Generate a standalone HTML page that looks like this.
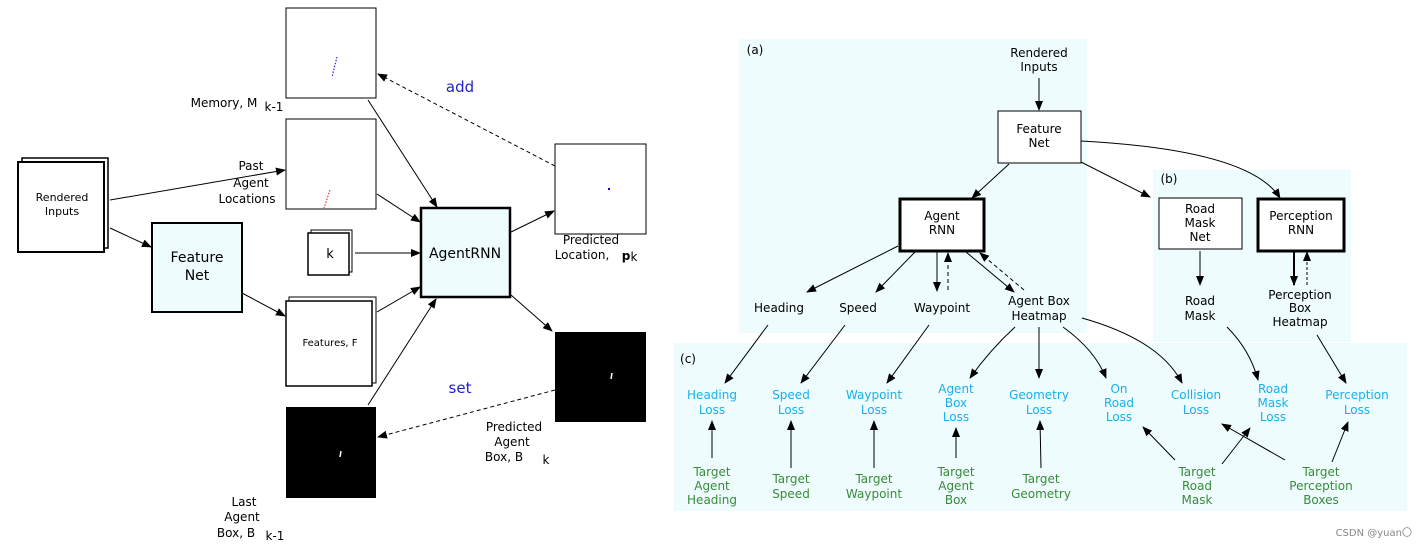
<!DOCTYPE html>
<html><head><meta charset="utf-8"><style>
html,body{margin:0;padding:0;background:#fff;overflow:hidden;}
svg{display:block;font-family:"DejaVu Sans","Liberation Sans",sans-serif;}
</style></head><body>
<svg width="1426" height="548" viewBox="0 0 1426 548" xmlns="http://www.w3.org/2000/svg">
<defs>
<marker id="a" markerWidth="10" markerHeight="8" refX="9" refY="4" orient="auto" markerUnits="userSpaceOnUse"><path d="M0,0 L10,4 L0,8 z" fill="#000"/></marker>
</defs>
<!-- LEFT DIAGRAM -->
<g stroke="#000" fill="none">
<rect x="22" y="158" width="86" height="90" fill="#fff" stroke-width="1.5"/>
<rect x="18" y="162" width="86" height="90" fill="#fff" stroke-width="2"/>
<rect x="152" y="223" width="90" height="89" fill="#eefcfd" stroke-width="2"/>
<rect x="286" y="8" width="90" height="90" fill="#fff" stroke-width="1"/>
<rect x="286" y="119" width="90" height="90" fill="#fff" stroke-width="1"/>
<rect x="311" y="230" width="41" height="42" fill="#fff" stroke-width="1"/>
<rect x="308" y="233" width="41" height="42" fill="#fff" stroke-width="1.5"/>
<rect x="289" y="297" width="87" height="86" fill="#fff" stroke-width="1"/>
<rect x="286" y="301" width="86" height="85" fill="#fff" stroke-width="1.5"/>
<rect x="421" y="208" width="89" height="89" fill="#eefcfd" stroke-width="2.5"/>
<rect x="555" y="144" width="91" height="90" fill="#fff" stroke-width="1"/>
</g>
<rect x="286" y="407" width="90" height="91" fill="#000"/>
<rect x="555" y="332" width="91" height="90" fill="#000"/>
<line x1="337" y1="57" x2="332" y2="77" stroke="#00f" stroke-dasharray="1.5,1.5"/>
<line x1="330" y1="190" x2="324" y2="208" stroke="#f00" stroke-dasharray="1.5,1.5"/>
<rect x="608" y="188" width="2" height="2" fill="#00f"/>
<line x1="341" y1="451" x2="340" y2="457" stroke="#fff" stroke-width="1.5"/>
<line x1="612" y1="373" x2="611" y2="379" stroke="#fff" stroke-width="1.5"/>
<g stroke="#000" stroke-width="1" fill="none" marker-end="url(#a)">
<line x1="110" y1="200" x2="285" y2="170"/>
<line x1="110" y1="228" x2="151" y2="247"/>
<line x1="242" y1="293" x2="285" y2="316"/>
<line x1="368" y1="100" x2="437" y2="207"/>
<line x1="377" y1="194" x2="420" y2="222"/>
<line x1="355" y1="253" x2="420" y2="253"/>
<line x1="377" y1="312" x2="420" y2="287"/>
<line x1="368" y1="405" x2="436" y2="299"/>
<line x1="511" y1="232" x2="554" y2="211"/>
<line x1="511" y1="295" x2="552" y2="331"/>
<line x1="555" y1="166" x2="378" y2="74" stroke-dasharray="4,3"/>
<line x1="555" y1="390" x2="378" y2="437" stroke-dasharray="4,3"/>
</g>
<g font-size="12" fill="#000" text-anchor="middle">
<text x="62" y="201" font-size="11">Rendered</text><text x="62" y="215" font-size="11">Inputs</text>
<text x="197" y="262" font-size="14">Feature</text><text x="197" y="280" font-size="14">Net</text>
<text x="330" y="258" font-size="13">k</text>
<text x="465" y="258" font-size="14">AgentRNN</text>
<text x="330" y="346" font-size="10">Features, F</text>
<text x="224" y="107">Memory, M</text><text x="274" y="111">k-1</text>
<text x="251" y="170">Past</text><text x="251" y="187">Agent</text><text x="247" y="203">Locations</text>
<text x="591" y="244">Predicted</text><text x="582" y="259">Location,</text><text x="626" y="260" font-weight="bold">p</text><text x="634" y="261">k</text>
<text x="514" y="431">Predicted</text><text x="512" y="446">Agent</text><text x="504" y="461">Box, B</text><text x="546" y="464">k</text>
<text x="244" y="506">Last</text><text x="242" y="521">Agent</text><text x="236" y="537">Box, B</text><text x="275" y="540">k-1</text>
<text x="460" y="92" fill="#22c" font-size="15">add</text>
<text x="460" y="393" fill="#22c" font-size="15">set</text>
</g>

<!-- RIGHT DIAGRAM -->
<rect x="739" y="39" width="348" height="294" fill="#eefcfd"/>
<rect x="1153" y="170" width="198" height="172" fill="#eefcfd"/>
<rect x="674" y="343" width="733" height="168" fill="#eefcfd"/>
<g stroke="#000" fill="#fff">
<rect x="998" y="111" width="83" height="52" stroke-width="1"/>
<rect x="900" y="199" width="84" height="52" stroke-width="3"/>
<rect x="1159" y="198" width="83" height="51" stroke-width="1"/>
<rect x="1258" y="199" width="86" height="52" stroke-width="3"/>
</g>
<g stroke="#000" stroke-width="1" fill="none" marker-end="url(#a)">
<line x1="1039" y1="78" x2="1039" y2="110"/>
<line x1="1009" y1="164" x2="972" y2="198"/>
<line x1="1081" y1="162" x2="1150" y2="197"/>
<path d="M1081,141 Q1250,150 1280,198"/>
<line x1="898" y1="246" x2="807" y2="292"/>
<line x1="915" y1="252" x2="876" y2="292"/>
<line x1="937" y1="252" x2="937" y2="291"/>
<line x1="948" y1="290" x2="948" y2="253" stroke-dasharray="4,3"/>
<line x1="966" y1="252" x2="1014" y2="292"/>
<line x1="1024" y1="290" x2="980" y2="253" stroke-dasharray="4,3"/>
<line x1="1200" y1="251" x2="1200" y2="285"/>
<line x1="1294" y1="251" x2="1294" y2="285" stroke-width="2"/>
<line x1="1307" y1="285" x2="1307" y2="252" stroke-dasharray="3,2"/>
<line x1="768" y1="325" x2="725" y2="383"/>
<line x1="845" y1="325" x2="801" y2="383"/>
<line x1="929" y1="325" x2="887" y2="383"/>
<path d="M1015,327 Q990,350 970,378"/>
<line x1="1039" y1="327" x2="1039" y2="378"/>
<path d="M1063,327 Q1095,350 1106,378"/>
<path d="M1082,318 Q1160,340 1182,383"/>
<path d="M1227,327 Q1250,350 1258,380"/>
<line x1="1317" y1="335" x2="1346" y2="383"/>
<line x1="712" y1="458" x2="712" y2="421"/>
<line x1="791" y1="468" x2="791" y2="421"/>
<line x1="874" y1="468" x2="874" y2="421"/>
<line x1="956" y1="458" x2="956" y2="428"/>
<line x1="1041" y1="468" x2="1040" y2="421"/>
<line x1="1175" y1="460" x2="1143" y2="427"/>
<line x1="1222" y1="464" x2="1250" y2="428"/>
<line x1="1285" y1="460" x2="1222" y2="424"/>
<line x1="1332" y1="462" x2="1348" y2="422"/>
</g>
<g font-size="12" fill="#000" text-anchor="middle">
<text x="755" y="54" font-size="12">(a)</text>
<text x="1169" y="183">(b)</text>
<text x="688" y="363">(c)</text>
<text x="1039" y="57">Rendered</text><text x="1039" y="71">Inputs</text>
<text x="1039" y="133">Feature</text><text x="1039" y="147">Net</text>
<text x="942" y="220">Agent</text><text x="942" y="234">RNN</text>
<text x="1200" y="213">Road</text><text x="1200" y="227">Mask</text><text x="1200" y="241">Net</text>
<text x="1301" y="220">Perception</text><text x="1301" y="234">RNN</text>
<text x="779" y="312">Heading</text>
<text x="858" y="312">Speed</text>
<text x="942" y="312">Waypoint</text>
<text x="1039" y="305">Agent Box</text><text x="1039" y="320">Heatmap</text>
<text x="1200" y="305">Road</text><text x="1200" y="320">Mask</text>
<text x="1300" y="299">Perception</text><text x="1300" y="312">Box</text><text x="1300" y="326">Heatmap</text>
</g>
<g font-size="12" fill="#1ab0e8" text-anchor="middle">
<text x="712" y="399">Heading</text><text x="712" y="414">Loss</text>
<text x="791" y="399">Speed</text><text x="791" y="414">Loss</text>
<text x="874" y="399">Waypoint</text><text x="874" y="414">Loss</text>
<text x="956" y="393">Agent</text><text x="956" y="407">Box</text><text x="956" y="421">Loss</text>
<text x="1039" y="399">Geometry</text><text x="1039" y="414">Loss</text>
<text x="1119" y="393">On</text><text x="1119" y="407">Road</text><text x="1119" y="421">Loss</text>
<text x="1196" y="399">Collision</text><text x="1196" y="414">Loss</text>
<text x="1273" y="393">Road</text><text x="1273" y="407">Mask</text><text x="1273" y="421">Loss</text>
<text x="1357" y="399">Perception</text><text x="1357" y="414">Loss</text>
</g>
<g font-size="12" fill="#3a8a3a" text-anchor="middle">
<text x="712" y="476">Target</text><text x="712" y="490">Agent</text><text x="712" y="504">Heading</text>
<text x="791" y="483">Target</text><text x="791" y="498">Speed</text>
<text x="874" y="483">Target</text><text x="874" y="498">Waypoint</text>
<text x="956" y="476">Target</text><text x="956" y="490">Agent</text><text x="956" y="504">Box</text>
<text x="1041" y="483">Target</text><text x="1041" y="498">Geometry</text>
<text x="1197" y="476">Target</text><text x="1197" y="490">Road</text><text x="1197" y="504">Mask</text>
<text x="1321" y="476">Target</text><text x="1321" y="490">Perception</text><text x="1321" y="504">Boxes</text>
</g>
<text x="1412" y="536" font-size="10" fill="#888" text-anchor="end">CSDN @yuan〇</text>
</svg>
</body></html>
